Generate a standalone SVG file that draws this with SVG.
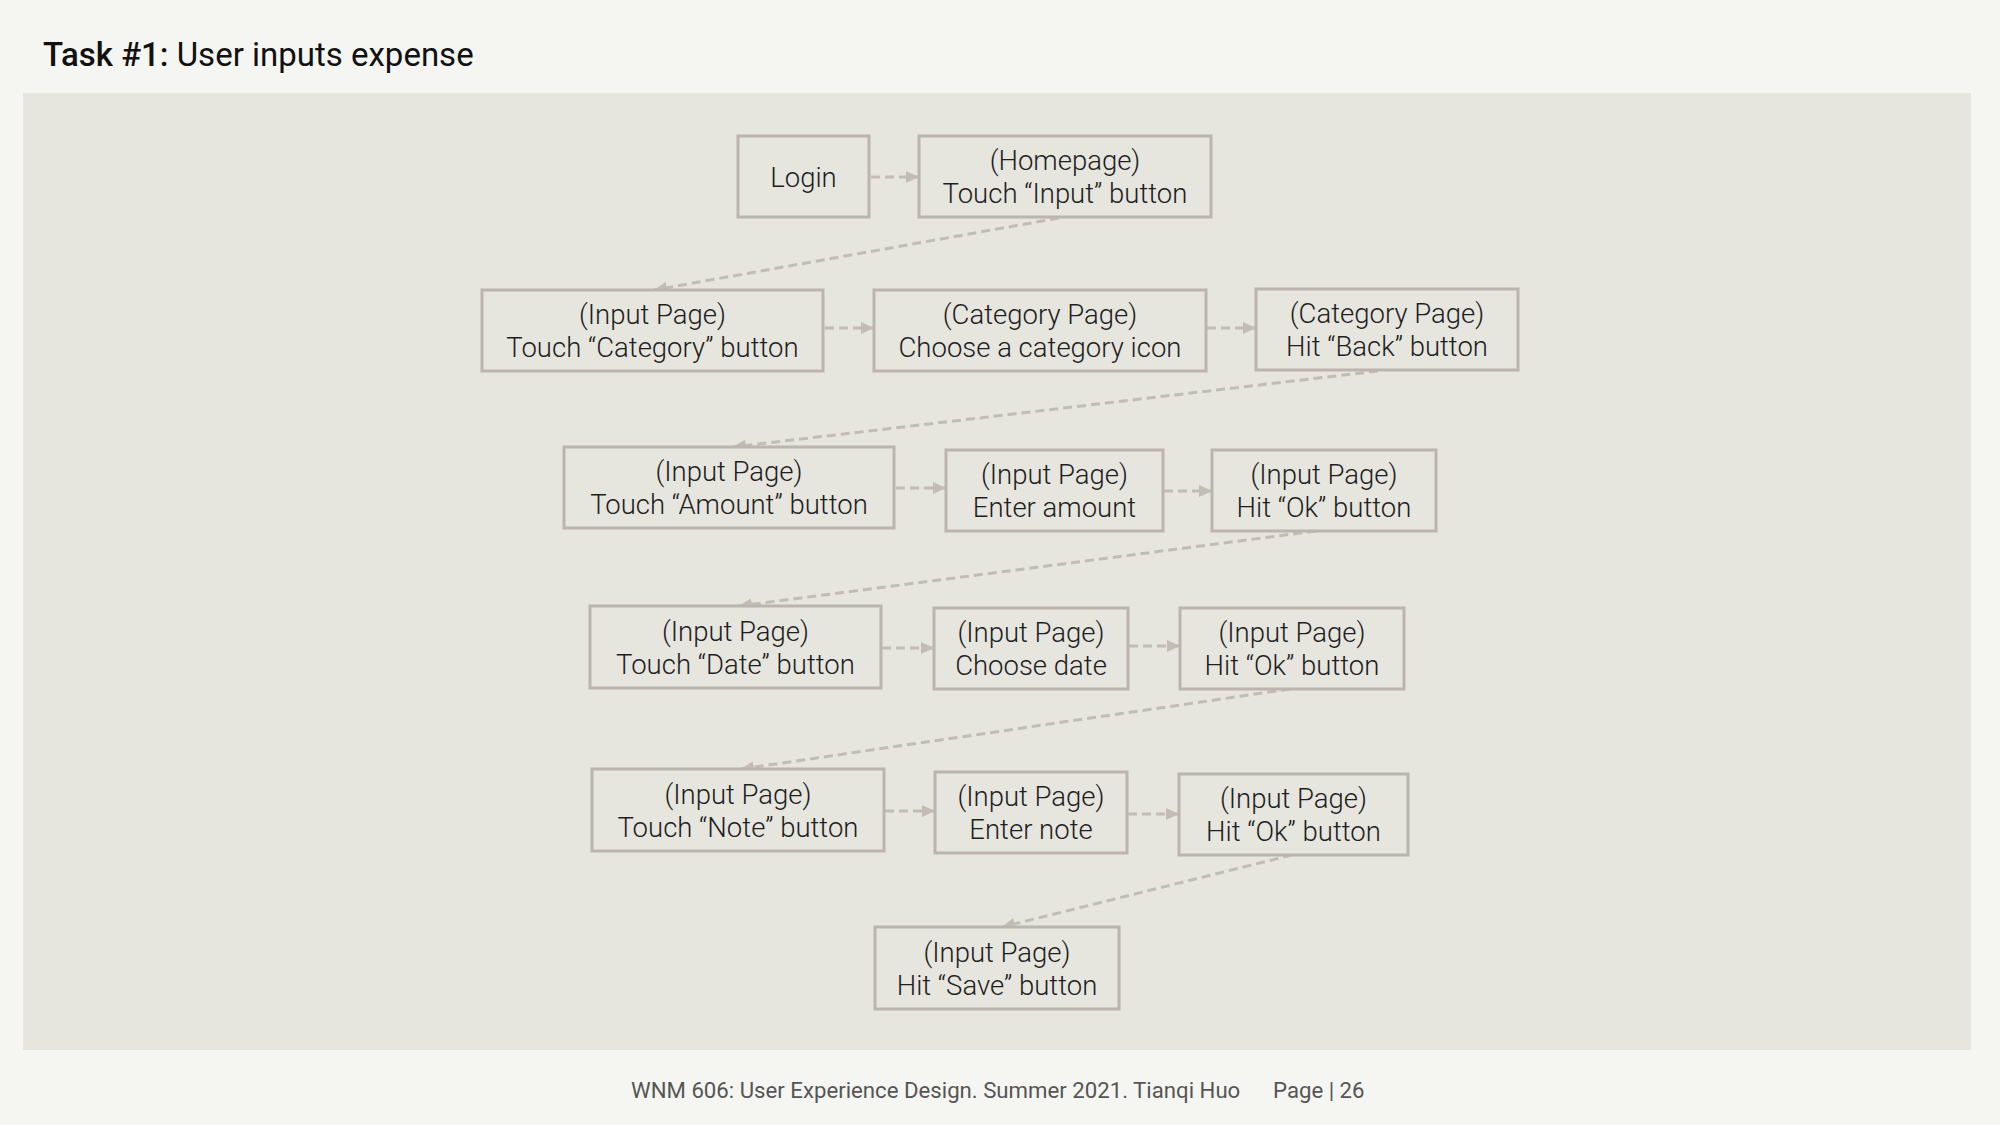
<svg xmlns="http://www.w3.org/2000/svg" width="2000" height="1125" viewBox="0 0 2000 1125">
<style>
.box{fill:#e6e5de;stroke:#bcb5ad;stroke-width:3}
.t{font-family:"Roboto Light",Roboto,"Liberation Sans",sans-serif;font-weight:300;font-size:27.5px;fill:#1e1e1e;text-anchor:middle}
.c{fill:none;stroke:#c3bcb4;stroke-width:3;stroke-dasharray:9 5}
.ft{font-family:Roboto,"Liberation Sans",sans-serif;font-size:22.2px;fill:#555}
</style>
<defs>
<marker id="ah" markerUnits="userSpaceOnUse" markerWidth="14" markerHeight="12" refX="13" refY="6" orient="auto">
<path d="M0,0 L13,6 L0,12 Z" fill="#c3bcb4"/>
</marker>
</defs>
<rect width="2000" height="1125" fill="#f5f5f1"/>
<rect x="23" y="93" width="1948" height="957" fill="#e6e5de"/>
<text x="43" y="66" font-family="Roboto,'Liberation Sans',sans-serif" font-size="33" fill="#111"><tspan font-weight="500">Task #1:</tspan> User inputs expense</text>

<g id="connectors">
<line class="c" x1="871" y1="177" x2="919" y2="177" marker-end="url(#ah)"/>
<line class="c" x1="1059" y1="218" x2="654" y2="290" marker-end="url(#ah)"/>
<line class="c" x1="825" y1="328" x2="874" y2="328" marker-end="url(#ah)"/>
<line class="c" x1="1207" y1="328" x2="1256" y2="328" marker-end="url(#ah)"/>
<line class="c" x1="1378" y1="371" x2="733" y2="447" marker-end="url(#ah)"/>
<line class="c" x1="896" y1="488" x2="946" y2="488" marker-end="url(#ah)"/>
<line class="c" x1="1164" y1="491" x2="1212" y2="491" marker-end="url(#ah)"/>
<line class="c" x1="1316" y1="531" x2="739" y2="606" marker-end="url(#ah)"/>
<line class="c" x1="882" y1="648" x2="934" y2="648" marker-end="url(#ah)"/>
<line class="c" x1="1129" y1="646" x2="1180" y2="646" marker-end="url(#ah)"/>
<line class="c" x1="1290" y1="689" x2="741" y2="769" marker-end="url(#ah)"/>
<line class="c" x1="885" y1="811" x2="935" y2="811" marker-end="url(#ah)"/>
<line class="c" x1="1128" y1="814" x2="1179" y2="814" marker-end="url(#ah)"/>
<line class="c" x1="1292" y1="855" x2="1002" y2="927" marker-end="url(#ah)"/>
</g>

<g id="login"><rect class="box" x="738" y="136" width="131" height="81"/><text class="t" x="803.5" y="187">Login</text></g>
<g id="homepage"><rect class="box" x="919" y="136" width="292" height="81"/><text class="t" x="1065" y="170">(Homepage)</text><text class="t" x="1065" y="203">Touch “Input” button</text></g>

<g id="touch-category"><rect class="box" x="482" y="290" width="341" height="81"/><text class="t" x="652.5" y="324">(Input Page)</text><text class="t" x="652.5" y="357">Touch “Category” button</text></g>
<g id="choose-category"><rect class="box" x="874" y="290" width="332" height="81"/><text class="t" x="1040" y="324">(Category Page)</text><text class="t" x="1040" y="357">Choose a category icon</text></g>
<g id="hit-back"><rect class="box" x="1256" y="289" width="262" height="81"/><text class="t" x="1387" y="323">(Category Page)</text><text class="t" x="1387" y="356">Hit “Back” button</text></g>

<g id="touch-amount"><rect class="box" x="564" y="447" width="330" height="81"/><text class="t" x="729" y="481">(Input Page)</text><text class="t" x="729" y="514">Touch “Amount” button</text></g>
<g id="enter-amount"><rect class="box" x="946" y="450" width="217" height="81"/><text class="t" x="1054.5" y="484">(Input Page)</text><text class="t" x="1054.5" y="517">Enter amount</text></g>
<g id="hit-ok-1"><rect class="box" x="1212" y="450" width="224" height="81"/><text class="t" x="1324" y="484">(Input Page)</text><text class="t" x="1324" y="517">Hit “Ok” button</text></g>

<g id="touch-date"><rect class="box" x="590" y="606" width="291" height="82"/><text class="t" x="735.5" y="641">(Input Page)</text><text class="t" x="735.5" y="674">Touch “Date” button</text></g>
<g id="choose-date"><rect class="box" x="934" y="608" width="194" height="81"/><text class="t" x="1031" y="642">(Input Page)</text><text class="t" x="1031" y="675">Choose date</text></g>
<g id="hit-ok-2"><rect class="box" x="1180" y="608" width="224" height="81"/><text class="t" x="1292" y="642">(Input Page)</text><text class="t" x="1292" y="675">Hit “Ok” button</text></g>

<g id="touch-note"><rect class="box" x="592" y="769" width="292" height="82"/><text class="t" x="738" y="804">(Input Page)</text><text class="t" x="738" y="837">Touch “Note” button</text></g>
<g id="enter-note"><rect class="box" x="935" y="772" width="192" height="81"/><text class="t" x="1031" y="806">(Input Page)</text><text class="t" x="1031" y="839">Enter note</text></g>
<g id="hit-ok-3"><rect class="box" x="1179" y="774" width="229" height="81"/><text class="t" x="1293.5" y="808">(Input Page)</text><text class="t" x="1293.5" y="841">Hit “Ok” button</text></g>

<g id="hit-save"><rect class="box" x="875" y="927" width="244" height="82"/><text class="t" x="997" y="962">(Input Page)</text><text class="t" x="997" y="995">Hit “Save” button</text></g>

<text class="ft" x="631" y="1098">WNM 606: User Experience Design. Summer 2021. Tianqi Huo</text>
<text class="ft" x="1273" y="1098">Page | 26</text>
</svg>
